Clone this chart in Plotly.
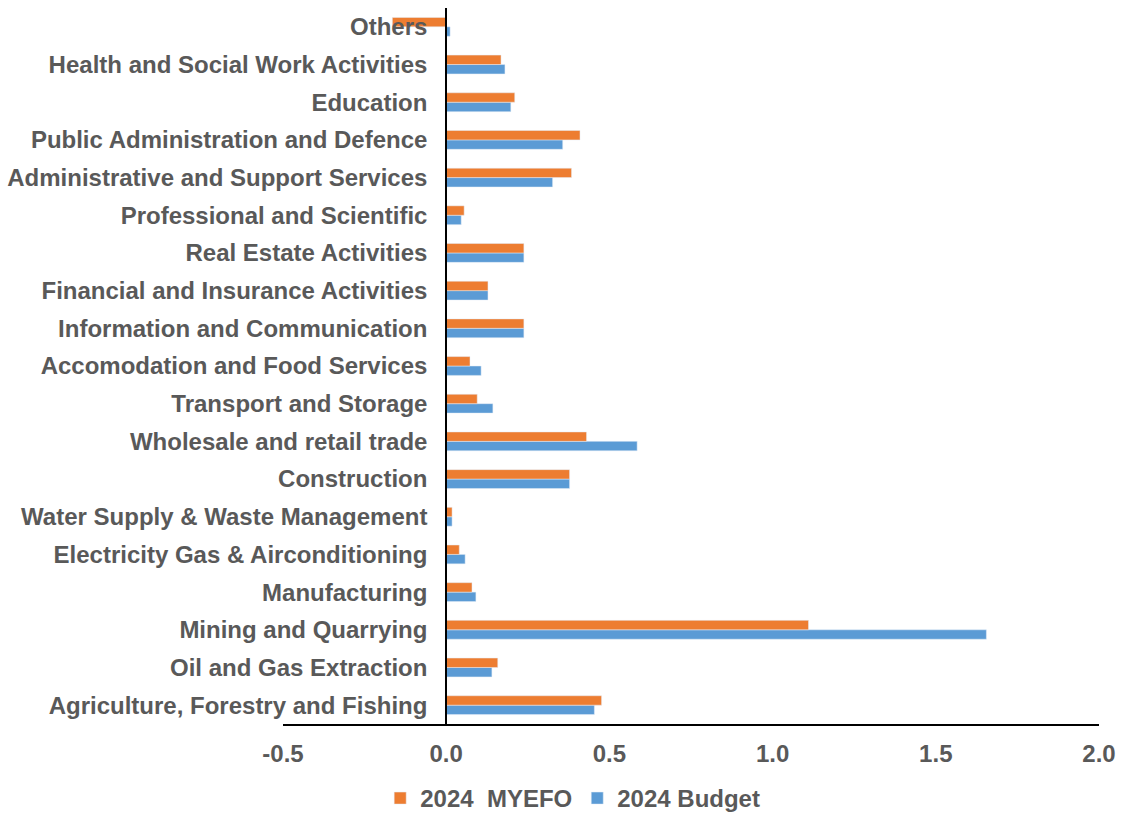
import plotly.graph_objects as go

categories = [
    "Agriculture, Forestry and Fishing",
    "Oil and Gas Extraction",
    "Mining and Quarrying",
    "Manufacturing",
    "Electricity Gas & Airconditioning",
    "Water Supply & Waste Management",
    "Construction",
    "Wholesale and retail trade",
    "Transport and Storage",
    "Accomodation and Food Services",
    "Information and Communication",
    "Financial and Insurance Activities",
    "Real Estate Activities",
    "Professional and Scientific",
    "Administrative and Support Services",
    "Public Administration and Defence",
    "Education",
    "Health and Social Work Activities",
    "Others",
]
myefo = [0.476, 0.158, 1.11, 0.079, 0.040, 0.018, 0.378, 0.430, 0.095, 0.073,
         0.238, 0.128, 0.238, 0.055, 0.384, 0.410, 0.210, 0.168, -0.165]
budget = [0.454, 0.140, 1.655, 0.091, 0.058, 0.018, 0.378, 0.585, 0.143, 0.107,
          0.238, 0.128, 0.238, 0.046, 0.326, 0.357, 0.198, 0.180, 0.012]
x_ticks = [-0.5, 0.0, 0.5, 1.0, 1.5, 2.0]
x_tick_labels = ["-0.5", "0.0", "0.5", "1.0", "1.5", "2.0"]

grey = "#595959"
font = dict(family="Liberation Sans, Arial, sans-serif", size=24, color=grey, weight="bold")

fig = go.Figure()
fig.add_trace(go.Bar(y=categories, x=budget, orientation="h", name="2024 Budget",
                     marker_color="#5B9BD5", legendrank=2))
fig.add_trace(go.Bar(y=categories, x=myefo, orientation="h", name="2024  MYEFO",
                     marker_color="#ED7D31", legendrank=1))

fig.update_layout(
    width=1121, height=816,
    barmode="group", bargap=0.5, bargroupgap=0,
    plot_bgcolor="white", paper_bgcolor="white",
    font=font,
    margin=dict(l=283, r=22, t=8, b=92, autoexpand=False),
    legend=dict(orientation="h", x=0.355, y=-0.104, xanchor="center", yanchor="middle",
                font=font, itemwidth=30),
)
fig.update_xaxes(
    range=[-0.5, 2.0], tickvals=x_ticks, ticktext=x_tick_labels,
    showgrid=False, zeroline=False,
    showline=True, linecolor="black", linewidth=2,
    ticks="", ticklabelstandoff=7,
    tickfont=font,
)
fig.update_yaxes(
    type="category", anchor="free", position=0.2,
    showgrid=False, zeroline=False,
    showline=True, linecolor="black", linewidth=2,
    ticks="", ticklabelstandoff=13,
    tickfont=font,
)

fig.write_html("out.html", config={"displayModeBar": False},
               post_script="document.body.style.margin='0';")
